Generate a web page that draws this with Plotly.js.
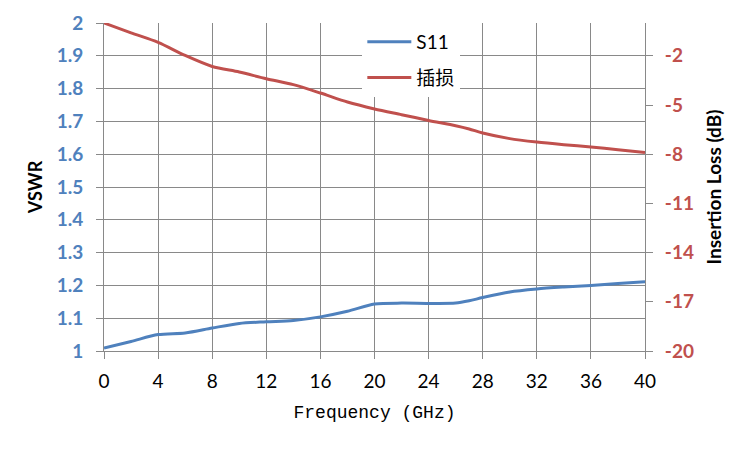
<!DOCTYPE html>
<html>
<head>
<meta charset="utf-8">
<script src="https://cdn.plot.ly/plotly-3.0.1.min.js"></script>
<style>html,body{margin:0;padding:0;background:#fff;}#chart{width:750px;height:450px;}</style>
</head>
<body>
<div id="chart"></div>
<script>
// Frequency points (GHz)
const freq = [0, 2, 4, 6, 8, 10, 12, 14, 16, 18, 20, 22, 24, 26, 27, 28, 30, 32, 34, 36, 38, 40];
// S11 VSWR (left axis)
const vswr = [1.009, 1.029, 1.050, 1.055, 1.070, 1.084, 1.089, 1.093, 1.104, 1.121, 1.143, 1.146, 1.145, 1.146, 1.153, 1.163, 1.180, 1.189, 1.195, 1.200, 1.206, 1.211];
// Insertion loss in dB (right axis)
const insertionLoss = [0, -0.60, -1.18, -1.98, -2.65, -2.99, -3.40, -3.76, -4.27, -4.82, -5.24, -5.59, -5.94, -6.26, -6.46, -6.71, -7.05, -7.26, -7.42, -7.56, -7.73, -7.89];
const seriesNames = ['S11', '插损'];
const xTicks = [0, 4, 8, 12, 16, 20, 24, 28, 32, 36, 40];
const leftTicks = [1, 1.1, 1.2, 1.3, 1.4, 1.5, 1.6, 1.7, 1.8, 1.9, 2];
const rightTicks = [-20, -17, -14, -11, -8, -5, -2];

const blue = '#4F81BD', red = '#C0504D', grid = '#898989';

const traces = [
  {x: freq, y: vswr, name: seriesNames[0], type: 'scatter', mode: 'lines',
   line: {color: blue, width: 3, shape: 'spline', smoothing: 0.8}, yaxis: 'y', legendgroup: 'a'},
  {x: freq, y: insertionLoss, name: seriesNames[1], type: 'scatter', mode: 'lines',
   line: {color: red, width: 3, shape: 'spline', smoothing: 0.8}, yaxis: 'y2', legendgroup: 'b'}
];

const layout = {
  width: 750, height: 450,
  margin: {l: 104, r: 105, t: 23, b: 99},
  paper_bgcolor: '#fff', plot_bgcolor: '#fff',
  showlegend: true,
  legend: {x: 0.4775, y: 1, xanchor: 'left', yanchor: 'top', bgcolor: '#fff', borderwidth: 0,
           font: {family: 'Lato, "Noto Sans CJK SC", sans-serif', size: 19, color: '#000'},
           traceorder: 'grouped', tracegroupgap: 8, itemwidth: 44},
  xaxis: {range: [0, 40], tickvals: xTicks, ticktext: xTicks.map(String), showgrid: true, gridcolor: grid, gridwidth: 1,
          showline: true, linecolor: grid, linewidth: 1, mirror: false, zeroline: false,
          ticks: 'outside', ticklen: 7, tickcolor: grid, ticklabelstandoff: 6,
          tickfont: {family: 'Lato, sans-serif', size: 19, color: '#000'},
          title: {text: 'Frequency (GHz)', font: {family: '"Liberation Mono", monospace', size: 18, color: '#000'}, standoff: 14}},
  yaxis: {range: [1, 2], tickvals: leftTicks, ticktext: leftTicks.map(v => String(v)), showgrid: true, gridcolor: grid, gridwidth: 1,
          showline: true, linecolor: grid, linewidth: 1, zeroline: false,
          ticks: 'outside', ticklen: 7, tickcolor: grid, ticklabelstandoff: 9,
          tickfont: {family: 'Lato, sans-serif', size: 19, color: blue, weight: 'bold'},
          title: {text: 'VSWR', font: {family: 'Lato, sans-serif', size: 18, color: '#000', weight: 'bold'}, standoff: 9}},
  yaxis2: {range: [-20, 0], tickvals: rightTicks, ticktext: rightTicks.map(String), overlaying: 'y', side: 'right',
           showgrid: false, showline: true, linecolor: grid, linewidth: 1, zeroline: false,
           ticks: 'outside', ticklen: 7, tickcolor: grid, ticklabelstandoff: 8,
           tickfont: {family: 'Lato, sans-serif', size: 19, color: red, weight: 'bold'},
           title: {text: 'Insertion Loss (dB)', font: {family: 'Lato, sans-serif', size: 19, color: '#000', weight: 'bold'}, standoff: 14}}
};

Plotly.newPlot('chart', traces, layout, {displayModeBar: false, staticPlot: true});
</script>
</body>
</html>
